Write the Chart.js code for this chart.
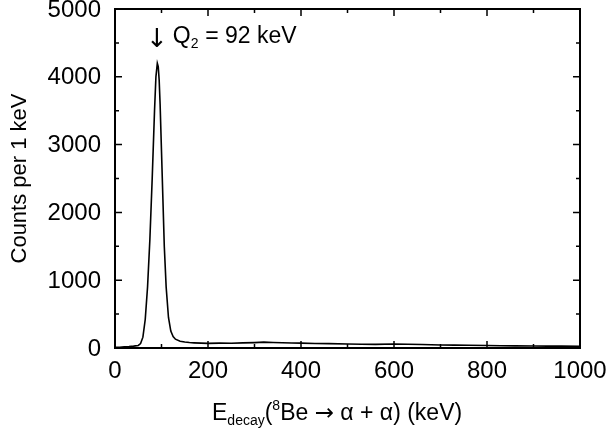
<!DOCTYPE html>
<html><head><meta charset="utf-8">
<script src="https://cdn.jsdelivr.net/npm/chart.js@4"></script>
<style>html,body{margin:0;background:#fff}#wrap{width:609px;height:434px}</style>
</head><body><div id="wrap"><canvas id="c"></canvas></div>
<script>
// spectrum (keV, counts)
const energies = [0,10,20,30,40,50,55,60,65,70,75,80,85,88,91,93,95,97,100,103,106,110,115,120,125,130,140,150,160,170,185,200,225,250,275,300,320,340,360,380,400,430,460,500,530,560,600,630,660,700,730,760,800,830,860,900,930,960,1000];
const counts   = [10,12,18,22,28,38,65,160,420,900,1600,2500,3500,4000,4200,4150,3950,3600,2900,2200,1500,900,450,250,170,130,100,88,80,76,72,68,72,70,75,80,86,82,78,74,72,66,64,60,56,54,58,55,52,45,42,40,36,34,31,29,28,27,26];
const xTicks = [0,200,400,600,800,1000];
const yTicks = [0,1000,2000,3000,4000,5000];

Chart.defaults.font.family = "'Liberation Sans', Arial, sans-serif";
Chart.defaults.color = '#000';
const F = "'Liberation Sans', Arial, sans-serif";

const frame = {
  id: 'frame',
  afterDraw(chart) {
    const {ctx, chartArea: a, scales: {x, y}} = chart;
    ctx.save();
    ctx.strokeStyle = '#000'; ctx.lineWidth = 2;
    ctx.strokeRect(a.left, a.top, a.right - a.left, a.bottom - a.top);
    ctx.lineWidth = 1.5;
    for (let v = 0; v <= 1000; v += 100) {
      const p = x.getPixelForValue(v), len = v % 200 === 0 ? 7 : 4;
      ctx.beginPath(); ctx.moveTo(p, a.bottom); ctx.lineTo(p, a.bottom - len);
      ctx.moveTo(p, a.top); ctx.lineTo(p, a.top + len); ctx.stroke();
    }
    for (let v = 0; v <= 5000; v += 500) {
      const p = y.getPixelForValue(v), len = v % 1000 === 0 ? 7 : 4;
      ctx.beginPath(); ctx.moveTo(a.left, p); ctx.lineTo(a.left + len, p);
      ctx.moveTo(a.right, p); ctx.lineTo(a.right - len, p); ctx.stroke();
    }
    ctx.fillStyle = '#000';
    // tick labels
    ctx.font = '24px ' + F;
    ctx.textAlign = 'center'; ctx.textBaseline = 'alphabetic';
    xTicks.forEach(v => ctx.fillText(String(v), x.getPixelForValue(v), a.bottom + 30));
    ctx.textAlign = 'right'; ctx.textBaseline = 'middle';
    yTicks.forEach(v => ctx.fillText(String(v), a.left - 14, y.getPixelForValue(v) + 1));
    // y title
    ctx.save();
    ctx.translate(20, (a.top + a.bottom) / 2); ctx.rotate(-Math.PI / 2);
    ctx.textAlign = 'center'; ctx.font = '22px ' + F; ctx.fillText('Counts per 1 keV', 0, 0);
    ctx.restore();
    // annotation
    ctx.textBaseline = 'alphabetic';
    const ax = x.getPixelForValue(92), ay = 43;
    ctx.font = "26px 'DejaVu Sans'"; ctx.textAlign = 'center';
    ctx.fillText('↓', ax - 1, ay + 4);
    ctx.textAlign = 'left';
    ctx.font = '23px ' + F; ctx.fillText('Q', ax + 15, ay);
    ctx.font = '14px ' + F; ctx.fillText('2', ax + 33, ay + 5);
    ctx.font = '23px ' + F; ctx.fillText(' = 92 keV', ax + 41, ay);
    // x title
    let tx = 212, ty = 420;
    const seg = (t, f, dy) => { ctx.font = f; ctx.fillText(t, tx, ty + dy); tx += ctx.measureText(t).width; };
    seg('E', '23px ' + F, 0);
    seg('decay', '14px ' + F, 5);
    seg('(', '23px ' + F, 0);
    seg('8', '14px ' + F, -10);
    seg('Be ', '23px ' + F, 0);
    seg('→', "23px 'DejaVu Sans'", 0);
    seg(' α + α) (keV)', '23px ' + F, 0);
    ctx.restore();
  }
};

new Chart(document.getElementById('c'), {
  type: 'line',
  data: { datasets: [{
    data: energies.map((e, i) => ({x: e, y: counts[i]})),
    borderColor: '#000', borderWidth: 1.6, pointRadius: 0, tension: 0, fill: false
  }]},
  options: {
    responsive: true, maintainAspectRatio: false, animation: false,
    layout: { padding: { left: 0, right: 29, top: 9, bottom: 0 } },
    plugins: { legend: { display: false }, tooltip: { enabled: false } },
    scales: {
      x: { type: 'linear', min: 0, max: 1000,
        afterFit: s => { s.height = 86; },
        grid: { display: false, drawTicks: false }, border: { display: false },
        ticks: { display: false } },
      y: { min: 0, max: 5000,
        afterFit: s => { s.width = 115; },
        grid: { display: false, drawTicks: false }, border: { display: false },
        ticks: { display: false } }
    }
  },
  plugins: [frame]
});
</script></body></html>
